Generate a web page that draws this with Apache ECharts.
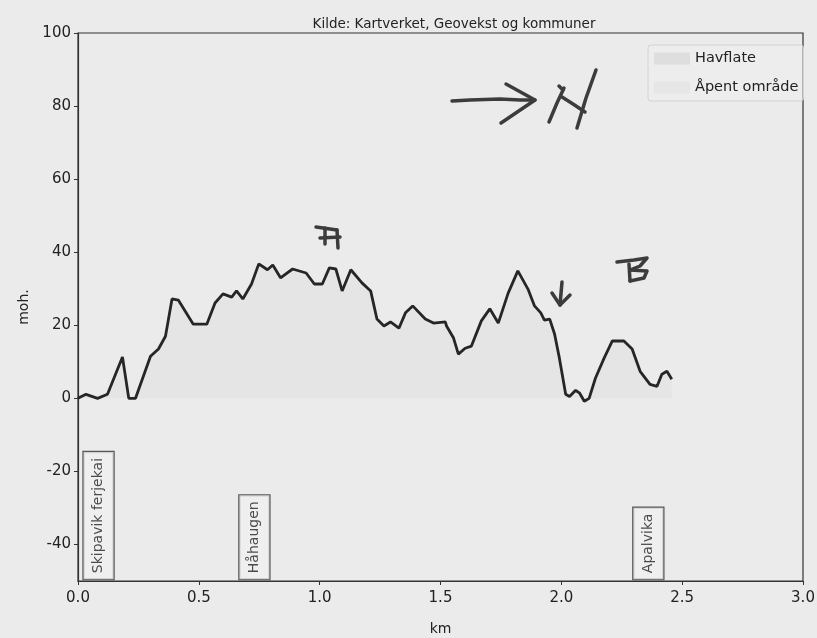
<!DOCTYPE html>
<html>
<head>
<meta charset="utf-8">
<script src="https://cdn.jsdelivr.net/npm/echarts@6/dist/echarts.min.js"></script>
<style>
html,body{margin:0;padding:0;background:#ebebeb;}
#c{width:817px;height:638px;}
</style>
</head>
<body>
<div id="c"></div>
<script>
var titleText = 'Kilde: Kartverket, Geovekst og kommuner';
var xTicks = [0, 0.5, 1.0, 1.5, 2.0, 2.5, 3.0];
var yTicks = [-40, -20, 0, 20, 40, 60, 80, 100];
var profileKm = [0,0.033,0.081,0.122,0.184,0.21,0.238,0.30,0.333,0.362,0.389,0.415,0.477,0.533,0.567,0.60,0.636,0.656,0.682,0.718,0.748,0.784,0.806,0.838,0.888,0.944,0.978,1.011,1.04,1.067,1.093,1.129,1.175,1.211,1.237,1.266,1.293,1.328,1.355,1.385,1.437,1.471,1.52,1.525,1.554,1.574,1.602,1.628,1.669,1.704,1.739,1.78,1.82,1.862,1.889,1.915,1.93,1.952,1.972,1.992,2.018,2.034,2.059,2.076,2.095,2.115,2.141,2.177,2.211,2.259,2.293,2.326,2.367,2.396,2.416,2.437,2.457];
var profileMoh = [0,1.1,0,1.1,11.3,0,0,11.5,13.5,17,27.2,26.9,20.3,20.3,26.1,28.6,27.7,29.4,27.2,31.3,36.8,35.2,36.5,33,35.4,34.3,31.3,31.3,35.7,35.4,29.4,35.2,31.6,29.4,21.7,19.8,20.9,19.2,23.4,25.3,21.7,20.6,20.9,19.8,16.5,12.1,13.7,14.3,21.2,24.5,20.6,28.8,34.9,29.9,25.3,23.4,21.4,21.7,17.6,11,1.1,0.5,2.2,1.4,-0.8,0,5.5,11,15.7,15.7,13.5,7.4,3.8,3.3,6.6,7.4,5.2];
var placeNames = ['Skipavik ferjekai', 'Håhaugen', 'Apalvika'];
var placeKm = [0.085, 0.73, 2.36];

var n = Math.min(profileKm.length, profileMoh.length);
var profile = [];
for (var i = 0; i < n; i++) profile.push([profileKm[i], profileMoh[i]]);
var places = placeNames.map(function (nm, i) { return { name: nm, value: [placeKm[i], -49.5] }; });

var font = 'DejaVu Sans';
var ink = '#333';
function stroke(points) {
  return { type: 'polyline', shape: { points: points },
    style: { stroke: '#3c3c3c', lineWidth: 3.5, fill: null, lineCap: 'round', lineJoin: 'round' }, z: 100 };
}

var chart = echarts.init(document.getElementById('c'));
chart.setOption({
  backgroundColor: '#ebebeb',
  animation: false,
  title: { text: titleText, left: 449, textAlign: 'center', top: 12,
    textStyle: { fontFamily: font, fontSize: 13.5, fontWeight: 'normal', color: '#222' } },
  grid: { left: 78, right: 14, top: 33, bottom: 57, outerBoundsMode: 'none', containLabel: false,
    show: true, borderColor: ink, borderWidth: 1.2, backgroundColor: 'transparent' },
  legend: {
    orient: 'vertical', left: 648, top: 45,
    data: ['Havflate', 'Åpent område'],
    icon: 'rect', itemWidth: 36, itemHeight: 12, itemGap: 14,
    padding: [6, 5, 6, 6],
    borderColor: '#d2d2d2', borderWidth: 1, borderRadius: 3,
    backgroundColor: 'rgba(240,240,240,0.5)',
    textStyle: { fontFamily: font, fontSize: 14.5, color: '#222' }
  },
  xAxis: {
    type: 'value', min: 0, max: 3, interval: 0.5,
    name: 'km', nameLocation: 'middle', nameGap: 41,
    nameTextStyle: { fontFamily: font, fontSize: 14, color: '#222' },
    axisLine: { show: true, onZero: false, lineStyle: { color: ink, width: 1.2 } },
    axisTick: { show: true, length: 4, lineStyle: { color: ink } },
    axisLabel: { customValues: xTicks, margin: 10, fontFamily: font, fontSize: 15, color: '#222',
      formatter: function (v) { return v.toFixed(1); } },
    splitLine: { show: false }
  },
  yAxis: {
    type: 'value', min: -50, max: 100,
    name: 'moh.', nameLocation: 'middle', nameGap: 42,
    nameTextStyle: { fontFamily: font, fontSize: 14, color: '#222' },
    axisLine: { show: true, onZero: false, lineStyle: { color: ink, width: 1.2 } },
    axisTick: { show: true, length: 4, customValues: yTicks, lineStyle: { color: ink } },
    axisLabel: { customValues: yTicks, margin: 7, fontFamily: font, fontSize: 15, color: '#222' },
    splitLine: { show: false }
  },
  series: [
    { name: 'Havflate', type: 'line', data: [], itemStyle: { color: '#dedede' } },
    { name: 'Åpent område', type: 'line', data: profile, symbol: 'none',
      itemStyle: { color: '#e6e6e6' },
      lineStyle: { width: 0 }, areaStyle: { color: 'rgba(0,0,0,0.03)', origin: 0 }, z: 1 },
    { name: 'profil', type: 'line', data: profile, symbol: 'none',
      lineStyle: { color: '#262626', width: 2.8 }, z: 5 },
    { name: 'steder', type: 'scatter', data: places, symbolSize: 0, z: 6,
      label: { show: true, position: [0, 0], rotate: 90, align: 'left', verticalAlign: 'middle',
        formatter: function (p) { return p.name; },
        fontFamily: font, fontSize: 14, color: '#222',
        backgroundColor: '#f0f0f0', borderColor: '#333', borderWidth: 1.2,
        padding: [8, 6, 8, 6] } }
  ],
  graphic: [
    stroke([[452,101],[470,100],[500,99],[520,100],[535,100]]),
    stroke([[506,84],[535,100],[501,123]]),
    stroke([[549,122],[557,103],[564,88]]),
    stroke([[559,86],[563,90]]),
    stroke([[562,97],[573,104],[585,112]]),
    stroke([[596,70],[586,98],[577,128]]),
    stroke([[316,227],[337,230]]),
    stroke([[325,228],[325,244]]),
    stroke([[320,238],[340,237]]),
    stroke([[337,230],[338,248]]),
    stroke([[617,262],[634,260],[647,258],[640,266],[630,270]]),
    stroke([[630,270],[647,271],[644,278],[630,281]]),
    stroke([[629,264],[630,281]]),
    stroke([[562,282],[560,305]]),
    stroke([[552,293],[560,305],[570,295]])
  ]
});
</script>
</body>
</html>
